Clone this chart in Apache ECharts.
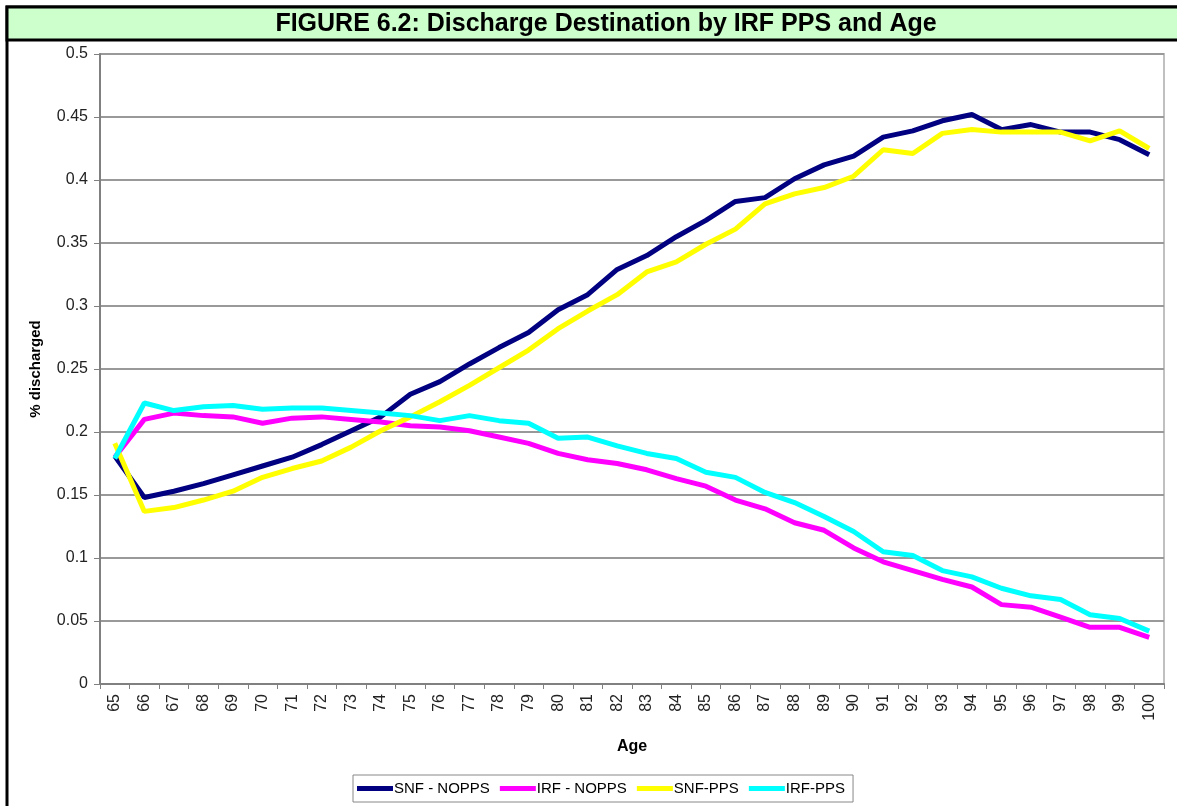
<!DOCTYPE html>
<html>
<head>
<meta charset="utf-8">
<script src="https://cdn.jsdelivr.net/npm/echarts@6/dist/echarts.min.js"></script>
<style>
html,body{margin:0;padding:0;background:#fff;}
#chart{width:1177px;height:806px;}
</style>
</head>
<body>
<div id="chart"></div>
<script>
const ages = ["65","66","67","68","69","70","71","72","73","74","75","76","77","78","79","80","81","82","83","84","85","86","87","88","89","90","91","92","93","94","95","96","97","98","99","100"];
const snfNoPPS = [0.181,0.148,0.153,0.159,0.166,0.173,0.180,0.190,0.201,0.212,0.230,0.240,0.254,0.267,0.279,0.297,0.309,0.329,0.340,0.355,0.368,0.383,0.386,0.401,0.412,0.419,0.434,0.439,0.447,0.452,0.440,0.444,0.438,0.438,0.432,0.420];
const irfNoPPS = [0.180,0.210,0.215,0.213,0.212,0.207,0.211,0.212,0.210,0.208,0.205,0.204,0.201,0.196,0.191,0.183,0.178,0.175,0.170,0.163,0.157,0.146,0.139,0.128,0.122,0.108,0.097,0.090,0.083,0.077,0.063,0.061,0.053,0.045,0.045,0.037];
const snfPPS = [0.191,0.137,0.140,0.146,0.153,0.164,0.171,0.177,0.188,0.201,0.212,0.224,0.237,0.251,0.265,0.282,0.296,0.309,0.327,0.335,0.349,0.361,0.381,0.389,0.394,0.403,0.424,0.421,0.437,0.440,0.438,0.438,0.438,0.431,0.439,0.425];
const irfPPS = [0.179,0.223,0.217,0.220,0.221,0.218,0.219,0.219,0.217,0.215,0.213,0.209,0.213,0.209,0.207,0.195,0.196,0.189,0.183,0.179,0.168,0.164,0.152,0.144,0.133,0.121,0.105,0.102,0.090,0.085,0.076,0.070,0.067,0.055,0.052,0.042];
const seriesNames = ["SNF - NOPPS","IRF - NOPPS","SNF-PPS","IRF-PPS"];
const seriesColors = ["#000080","#ff00ff","#ffff00","#00ffff"];
const titleText = "FIGURE 6.2: Discharge Destination by IRF PPS and Age";

const chart = echarts.init(document.getElementById('chart'), null, {renderer:'canvas'});
const font = "'Liberation Sans', Arial, sans-serif";
const dataSets = [snfNoPPS, irfNoPPS, snfPPS, irfPPS];

chart.setOption({
  animation:false,
  backgroundColor:'#fff',
  graphic:[
    {type:'rect', shape:{x:7,y:7,width:1180,height:805}, style:{fill:'none',stroke:'#000',lineWidth:3}, z:-1},
    {type:'rect', shape:{x:7,y:7,width:1180,height:33}, style:{fill:'#ccffcc',stroke:'#000',lineWidth:3}, z:-1},
    {type:'text', x:606, y:24, style:{text:titleText, font:"bold 25px 'Liberation Sans', Arial, sans-serif", fill:'#000', align:'center', verticalAlign:'middle'}}
  ],
  grid:{left:100, right:13, top:54, bottom:122, show:true, borderColor:'#c0c0c0', borderWidth:2, backgroundColor:'transparent'},
  legend:{
    left:353, top:775, orient:'horizontal',
    data:seriesNames,
    icon:'rect', itemWidth:36, itemHeight:5, itemGap:10,
    padding:[6,8,6,4],
    borderColor:'#888', borderWidth:1, borderRadius:0,
    textStyle:{fontFamily:font, fontSize:15, color:'#000', padding:[0,0,0,-4]}
  },
  xAxis:{
    type:'category', data:ages, boundaryGap:true,
    name:'Age', nameLocation:'middle', nameGap:55,
    nameTextStyle:{fontFamily:font, fontSize:16, fontWeight:'bold', color:'#000'},
    axisLine:{lineStyle:{color:'#808080', width:2}},
    axisTick:{show:true, interval:0, length:5, lineStyle:{color:'#808080', width:1}},
    axisLabel:{interval:0, rotate:90, fontFamily:font, fontSize:16, color:'#222', margin:10},
    splitLine:{show:false}
  },
  yAxis:{
    type:'value', min:0, max:0.5, interval:0.05,
    name:'% discharged', nameLocation:'middle', nameGap:57,
    nameTextStyle:{fontFamily:font, fontSize:15, fontWeight:'bold', color:'#000'},
    axisLine:{show:true, lineStyle:{color:'#808080', width:2}},
    axisTick:{show:true, length:6, lineStyle:{color:'#808080'}},
    axisLabel:{fontFamily:font, fontSize:16, color:'#222', margin:12, formatter:v=>String(parseFloat(v.toFixed(2)))},
    splitLine:{show:true, lineStyle:{color:'#999', width:2}}
  },
  series:seriesNames.map((n,i)=>({
    name:n, type:'line', data:dataSets[i], symbol:'none', smooth:false,
    lineStyle:{color:seriesColors[i], width:5}, itemStyle:{color:seriesColors[i]}
  }))
});
</script>
</body>
</html>
